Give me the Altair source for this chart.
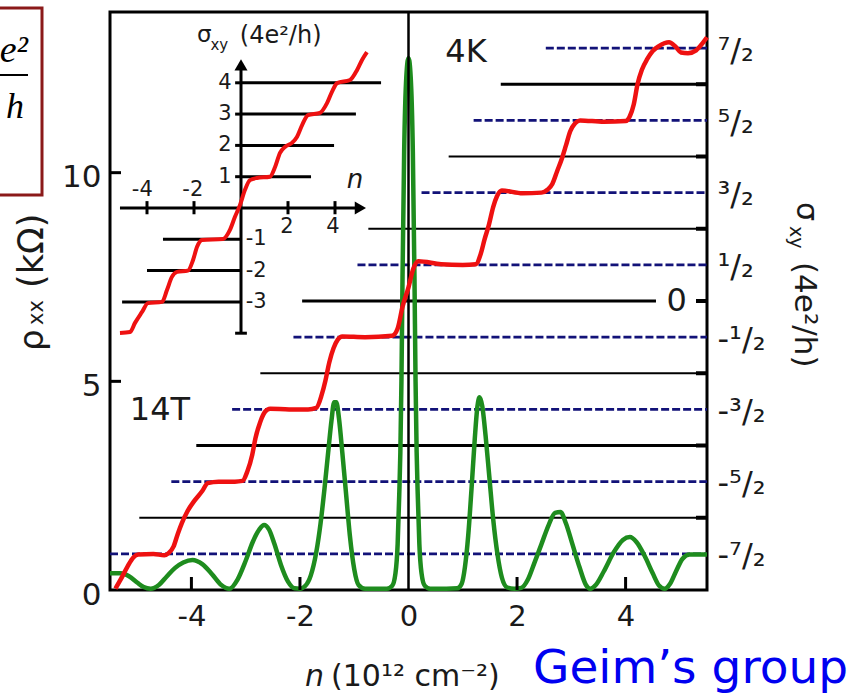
import altair as alt
import pandas as pd

# ---------------- data ----------------
# green curve: rho_xx (kOhm) versus n (10^12 cm^-2)
rho_n = [-5.5, -5.3, -5.15, -5.0, -4.88, -4.75, -4.6, -4.45, -4.3, -4.15, -3.98, -3.8, -3.62,
         -3.45, -3.3, -3.15, -3.0, -2.87, -2.75, -2.66, -2.57, -2.47, -2.35, -2.22, -2.1, -2.0,
         -1.9, -1.8, -1.7, -1.62, -1.55, -1.48, -1.42, -1.37, -1.33, -1.28, -1.22, -1.15, -1.08,
         -1.0, -0.92, -0.8, -0.6, -0.4, -0.3, -0.24, -0.2, -0.17, -0.15, -0.13, -0.11, -0.08,
         -0.04, 0.0, 0.04, 0.08, 0.11, 0.13, 0.15, 0.17, 0.2, 0.24, 0.3, 0.4, 0.7, 0.9, 0.98,
         1.04, 1.1, 1.16, 1.22, 1.27, 1.31, 1.36, 1.42, 1.49, 1.56, 1.64, 1.72, 1.82, 1.95, 2.08,
         2.2, 2.32, 2.45, 2.58, 2.7, 2.8, 2.9, 3.02, 3.15, 3.27, 3.35, 3.45, 3.6, 3.78, 3.95,
         4.08, 4.2, 4.35, 4.5, 4.62, 4.72, 4.82, 4.93, 5.05, 5.18, 5.35, 5.5]
rho_val = [0.40, 0.40, 0.33, 0.18, 0.07, 0.03, 0.12, 0.33, 0.53, 0.66, 0.72, 0.62, 0.38,
           0.12, 0.03, 0.25, 0.7, 1.15, 1.45, 1.56, 1.45, 1.1, 0.6, 0.2, 0.04, 0.03,
           0.1, 0.35, 0.9, 1.6, 2.4, 3.3, 4.05, 4.5, 4.5, 4.1, 3.3, 2.3, 1.3,
           0.5, 0.12, 0.03, 0.03, 0.03, 0.1, 0.4, 1.1, 2.3, 3.3, 5.0, 7.5, 10.5,
           12.3, 12.75, 12.3, 10.5, 7.5, 5.0, 3.3, 2.3, 1.1, 0.4, 0.1, 0.03, 0.03, 0.04, 0.15,
           0.55, 1.3, 2.4, 3.6, 4.4, 4.62, 4.4, 3.7, 2.7, 1.7, 0.85, 0.3, 0.06, 0.03, 0.05,
           0.25, 0.65, 1.1, 1.55, 1.85, 1.87, 1.6, 1.1, 0.55, 0.12, 0.03, 0.12, 0.45, 0.9, 1.2,
           1.27, 1.15, 0.82, 0.4, 0.1, 0.03, 0.15, 0.45, 0.75, 0.85, 0.85, 0.85]

# red curve: sigma_xy (4e^2/h) versus n
sig_n = [-5.4, -5.3, -5.18, -5.07, -4.98, -4.7, -4.5, -4.42, -4.33, -4.25, -4.18, -4.08, -3.95,
         -3.8, -3.7, -3.5, -3.2, -3.06, -2.97, -2.88, -2.82, -2.73, -2.64, -2.55, -2.2, -1.85,
         -1.7, -1.6, -1.53, -1.46, -1.38, -1.3, -1.22, -0.8, -0.3, -0.2, -0.11, 0.0, 0.09, 0.18,
         0.6, 1.0, 1.24, 1.33, 1.4, 1.48, 1.56, 1.63, 1.72, 2.1, 2.45, 2.56, 2.65, 2.74, 2.83,
         2.9, 2.98, 3.07, 3.16, 3.6, 4.0, 4.08, 4.15, 4.22, 4.3, 4.4, 4.5, 4.62, 4.8, 4.92, 5.02,
         5.15, 5.3, 5.42, 5.5]
sig_val = [-3.98, -3.85, -3.68, -3.55, -3.51, -3.5, -3.52, -3.49, -3.4, -3.22, -3.08, -2.92, -2.77,
           -2.63, -2.52, -2.5, -2.5, -2.49, -2.36, -2.13, -1.9, -1.67, -1.53, -1.49, -1.5, -1.5,
           -1.48, -1.3, -1.1, -0.85, -0.65, -0.53, -0.49, -0.5, -0.48, -0.38, -0.08, 0.19, 0.45, 0.55,
           0.51, 0.5, 0.51, 0.65, 0.85, 1.05, 1.3, 1.45, 1.53, 1.49, 1.5, 1.54, 1.62, 1.8, 1.98,
           2.15, 2.35, 2.46, 2.5, 2.48, 2.49, 2.56, 2.72, 3.0, 3.2, 3.35, 3.46, 3.53, 3.58, 3.52, 3.44,
           3.43, 3.47, 3.57, 3.65]

# quantised levels (right axis units)
int_levels_thick = [3, 0, -2]
int_start_thick = [1.70, -1.96, -3.91]
int_end_thick = [5.5, 4.56, 5.5]
int_levels_thin = [2, 1, -1, -3]
int_start_thin = [0.74, -0.74, -2.73, -4.96]
int_end_thin = [5.5, 5.5, 5.5, 5.5]
half_levels = [3.5, 2.5, 1.5, 0.5, -0.5, -1.5, -2.5, -3.5]
half_start = [2.53, 1.2, 0.24, -0.94, -2.12, -3.25, -4.37, -5.5]
right_tick_levels = [3, 2, 1, 0, -1, -2, -3]
x_tick_values = [-4, -2, 0, 2, 4]
x_inner_ticks = [-4, -2, 2, 4]
rho_tick_values = [0, 5, 10]
rho_inner_ticks = [5, 10]

# in-plot labels
main_label_text = ["14T", "4K", "0"]
main_label_n = [-4.58, 1.06, 4.94]
main_label_s = [-1.51, 3.45, 0.0]

# inset: sigma_xy (4e^2/h) versus n
inset_n = [-5.15, -4.72, -4.51, -4.21, -3.96, -3.36, -3.15, -2.94, -2.72, -2.26, -2.04, -1.87,
           -1.66, -0.77, -0.47, -0.26, -0.04, 0.17, 0.38, 0.68, 1.23, 1.45, 1.66, 1.87, 2.17,
           2.38, 2.6, 2.85, 3.36, 3.66, 3.87, 4.09, 4.64, 4.94, 5.15, 5.36]
inset_sig = [-3.99, -3.96, -3.67, -3.32, -3.04, -3.0, -2.62, -2.2, -2.04, -2.0, -1.66, -1.24,
             -1.02, -0.99, -0.7, -0.29, 0.1, 0.58, 0.89, 0.96, 1.0, 1.31, 1.76, 1.95, 2.08,
             2.27, 2.65, 2.97, 3.04, 3.35, 3.71, 3.99, 4.09, 4.41, 4.73, 4.98]
inset_levels = [4, 3, 2, 1, -1, -2, -3]
inset_start = [0, 0, 0, 0, -3.32, -4.0, -5.06]
inset_end = [5.96, 4.89, 3.96, 2.98, 0, 0, 0]
inset_x_ticks = [-4, -2, 2, 4]
inset_x_labels = ["-4", "-2", "2", "4"]
inset_x_label_n = [-4.2, -2.05, 1.96, 3.91]
inset_x_label_s = [0.57, 0.57, -0.61, -0.61]
inset_pos_levels = [4, 3, 2, 1]
inset_neg_levels = [-1, -2, -3]
inset_neg_labels = ["-1", "-2", "-3"]

# ---------------- styling ----------------
W, H = 597, 578
FONT = "DejaVu Sans"
INK = "#1a1a1a"
RED = "#ee1111"
GREEN = "#1e8c1e"
NAVY = "#121278"
BLUE = "#0000f0"
BOX = "#8b1a1a"

X_main = alt.Scale(domain=[-5.5, 5.5], nice=False, zero=False)
Y_sig = alt.Scale(domain=[-4, 4], nice=False, zero=False)
Y_rho = alt.Scale(domain=[0, 13.85], nice=False, zero=False)
X_in = alt.Scale(domain=[-5, 5], range=[13.5, 248.5], nice=False, zero=False)
Y_in = alt.Scale(domain=[-4, 4], range=[321.2, 70.8], nice=False, zero=False)

right_expr = ("(datum.value < 0 ? '-' : '') + (abs(datum.value) == 0.5 ? '\u00b9' : "
              "abs(datum.value) == 1.5 ? '\u00b3' : abs(datum.value) == 2.5 ? '\u2075' : '\u2077')"
              " + '/\u2082'")
right_axis = alt.Axis(orient="right", values=half_levels, labelExpr=right_expr, ticks=False,
                      domain=False, grid=False, labelFont=FONT, labelFontSize=32,
                      labelColor=INK, labelPadding=10, labelAlign="left",
                      labelBaseline="middle", labelOffset=2, title=None, labelFlush=False,
                      labelOverlap=False)
x_axis = alt.Axis(orient="bottom", values=x_tick_values, labelExpr="'' + datum.value",
                  ticks=False, domain=False, grid=False, labelFont=FONT, labelFontSize=29,
                  labelColor=INK, labelPadding=12, title=None, labelFlush=False,
                  labelOverlap=False)
left_axis = alt.Axis(orient="left", values=rho_tick_values, labelExpr="'' + datum.value",
                     ticks=False, domain=False, grid=False, labelFont=FONT, labelFontSize=31,
                     labelColor=INK, labelPadding=9, labelOffset=5, title=None,
                     labelFlush=False, labelOverlap=False)

layers = []

# ---------------- sigma level lines (right axis) ----------------
df_thick = pd.DataFrame({"lvl": int_levels_thick, "x0": int_start_thick, "x1": int_end_thick})
df_thin = pd.DataFrame({"lvl": int_levels_thin, "x0": int_start_thin, "x1": int_end_thin})
df_half = pd.DataFrame({"lvl": half_levels, "x0": half_start})
df_rt = pd.DataFrame({"lvl": right_tick_levels})

layers.append(alt.Chart(df_thick).mark_rule(color="black", strokeWidth=3).encode(
    x=alt.X("x0:Q", scale=X_main, axis=None), x2="x1:Q",
    y=alt.Y("lvl:Q", scale=Y_sig, axis=right_axis)))
layers.append(alt.Chart(df_thin).mark_rule(color="black", strokeWidth=2).encode(
    x=alt.X("x0:Q", scale=X_main, axis=None), x2="x1:Q",
    y=alt.Y("lvl:Q", scale=Y_sig, axis=None)))
layers.append(alt.Chart(df_half).mark_rule(color=NAVY, strokeWidth=2.6, strokeDash=[8, 3]).encode(
    x=alt.X("x0:Q", scale=X_main, axis=None), x2=alt.datum(5.5),
    y=alt.Y("lvl:Q", scale=Y_sig, axis=None)))
layers.append(alt.Chart(df_rt).mark_rule(color="black", strokeWidth=4).encode(
    x=alt.value(W - 11), x2=alt.value(W),
    y=alt.Y("lvl:Q", scale=Y_sig, axis=None)))

# ---------------- rho_xx (left axis, bottom axis) ----------------
df_rho = pd.DataFrame({"n": rho_n, "rho": rho_val})
layers.append(alt.Chart(df_rho).mark_line(color=GREEN, strokeWidth=4.5, interpolate="monotone").encode(
    x=alt.X("n:Q", scale=X_main, axis=x_axis),
    y=alt.Y("rho:Q", scale=Y_rho, axis=left_axis)))
layers.append(alt.Chart(pd.DataFrame({"n": [0]})).mark_rule(color="black", strokeWidth=2.5).encode(
    x=alt.X("n:Q", scale=X_main, axis=None)))
layers.append(alt.Chart(pd.DataFrame({"n": x_inner_ticks})).mark_rule(color="black", strokeWidth=3).encode(
    x=alt.X("n:Q", scale=X_main, axis=None), y=alt.value(H), y2=alt.value(H - 13)))
layers.append(alt.Chart(pd.DataFrame({"v": rho_inner_ticks})).mark_rule(color="black", strokeWidth=3).encode(
    y=alt.Y("v:Q", scale=Y_rho, axis=None), x=alt.value(0), x2=alt.value(11)))

# ---------------- red sigma curve + labels ----------------
df_sig = pd.DataFrame({"n": sig_n, "s": sig_val})
layers.append(alt.Chart(df_sig).mark_line(color=RED, strokeWidth=4.5, interpolate="monotone").encode(
    x=alt.X("n:Q", scale=X_main, axis=None),
    y=alt.Y("s:Q", scale=Y_sig, axis=None)))
df_lab = pd.DataFrame({"n": main_label_n, "s": main_label_s, "t": main_label_text})
layers.append(alt.Chart(df_lab).mark_text(font=FONT, fontSize=32, color=INK, align="center",
                                          baseline="middle").encode(
    x=alt.X("n:Q", scale=X_main, axis=None),
    y=alt.Y("s:Q", scale=Y_sig, axis=None), text="t:N"))

# ---------------- inset ----------------
one = pd.DataFrame({"a": [0]})
df_in = pd.DataFrame({"n": inset_n, "s": inset_sig})
df_inl = pd.DataFrame({"lvl": inset_levels, "x0": inset_start, "x1": inset_end})
layers.append(alt.Chart(df_inl).mark_rule(color="black", strokeWidth=3).encode(
    x=alt.X("x0:Q", scale=X_in, axis=None), x2="x1:Q",
    y=alt.Y("lvl:Q", scale=Y_in, axis=None)))
layers.append(alt.Chart(one).mark_rule(color="black", strokeWidth=3).encode(
    x=alt.X(datum=-5.15, scale=X_in, axis=None), x2=alt.datum(5.1),
    y=alt.Y(datum=0, scale=Y_in, axis=None)))
layers.append(alt.Chart(one).mark_rule(color="black", strokeWidth=3).encode(
    x=alt.X(datum=0, scale=X_in, axis=None),
    y=alt.Y(datum=-4, scale=Y_in, axis=None), y2=alt.datum(4.5)))
layers.append(alt.Chart(one).mark_point(
    shape="triangle-right", filled=True, size=170, color="black", opacity=1).encode(
    x=alt.X(datum=5.08, scale=X_in, axis=None), y=alt.Y(datum=0, scale=Y_in, axis=None)))
layers.append(alt.Chart(one).mark_point(
    shape="triangle-up", filled=True, size=170, color="black", opacity=1).encode(
    x=alt.X(datum=0, scale=X_in, axis=None), y=alt.Y(datum=4.57, scale=Y_in, axis=None)))
layers.append(alt.Chart(pd.DataFrame({"v": inset_x_ticks})).mark_rule(color="black", strokeWidth=3).encode(
    x=alt.X("v:Q", scale=X_in, axis=None),
    y=alt.Y(datum=-0.2, scale=Y_in, axis=None), y2=alt.datum(0.22)))
layers.append(alt.Chart(pd.DataFrame({"v": inset_pos_levels})).mark_rule(color="black", strokeWidth=3).encode(
    x=alt.X(datum=-0.25, scale=X_in, axis=None), x2=alt.datum(0),
    y=alt.Y("v:Q", scale=Y_in, axis=None)))
layers.append(alt.Chart(pd.DataFrame({"v": [-4]})).mark_rule(color="black", strokeWidth=3).encode(
    x=alt.X(datum=-0.25, scale=X_in, axis=None), x2=alt.datum(0.25),
    y=alt.Y("v:Q", scale=Y_in, axis=None)))
layers.append(alt.Chart(pd.DataFrame({"v": inset_pos_levels})).mark_text(
    font=FONT, fontSize=21, color=INK, align="right", baseline="middle").encode(
    x=alt.X(datum=-0.4, scale=X_in, axis=None),
    y=alt.Y("v:Q", scale=Y_in, axis=None), text=alt.Text("v:Q")))
layers.append(alt.Chart(pd.DataFrame({"v": inset_neg_levels, "t": inset_neg_labels})).mark_text(
    font=FONT, fontSize=21, color=INK, align="left", baseline="middle").encode(
    x=alt.X(datum=0.2, scale=X_in, axis=None),
    y=alt.Y("v:Q", scale=Y_in, axis=None), text="t:N"))
layers.append(alt.Chart(pd.DataFrame({"n": inset_x_label_n, "s": inset_x_label_s,
                                      "t": inset_x_labels})).mark_text(
    font=FONT, fontSize=21, color=INK, align="center", baseline="middle").encode(
    x=alt.X("n:Q", scale=X_in, axis=None),
    y=alt.Y("s:Q", scale=Y_in, axis=None), text="t:N"))
layers.append(alt.Chart(one).mark_text(
    text="n", font=FONT, fontSize=26, fontStyle="italic", color=INK, align="center",
    baseline="middle").encode(
    x=alt.X(datum=4.85, scale=X_in, axis=None), y=alt.Y(datum=0.9, scale=Y_in, axis=None)))
layers.append(alt.Chart(one).mark_text(
    text="\u03c3", font=FONT, fontSize=23, color=INK, align="left", baseline="alphabetic").encode(
    x=alt.X(datum=-1.87, scale=X_in, axis=None), y=alt.Y(datum=5.3, scale=Y_in, axis=None)))
layers.append(alt.Chart(one).mark_text(
    text="xy", font=FONT, fontSize=15, color=INK, align="left", baseline="alphabetic").encode(
    x=alt.X(datum=-1.3, scale=X_in, axis=None), y=alt.Y(datum=5.05, scale=Y_in, axis=None)))
layers.append(alt.Chart(one).mark_text(
    text="(4e\u00b2/h)", font=FONT, fontSize=24, color=INK, align="left",
    baseline="alphabetic").encode(
    x=alt.X(datum=-0.05, scale=X_in, axis=None), y=alt.Y(datum=5.27, scale=Y_in, axis=None)))
layers.append(alt.Chart(df_in).mark_line(color=RED, strokeWidth=4, interpolate="monotone").encode(
    x=alt.X("n:Q", scale=X_in, axis=None), y=alt.Y("s:Q", scale=Y_in, axis=None)))


# ---------------- decorations outside the plot ----------------
def ptext(txt, x, y, **kw):
    return alt.Chart(one).mark_text(text=txt, **kw).encode(x=alt.value(x), y=alt.value(y))


layers.append(alt.Chart(one).mark_rect(filled=False, stroke=BOX, strokeWidth=3).encode(
    x=alt.value(-130), x2=alt.value(-68), y=alt.value(-4), y2=alt.value(183)))
layers.append(alt.Chart(one).mark_rule(color="black", strokeWidth=2).encode(
    x=alt.value(-110), x2=alt.value(-82), y=alt.value(63)))
layers += [
    ptext("e\u00b2", -82, 50, font="Liberation Serif", fontStyle="italic", fontSize=38,
          color="black", align="right", baseline="alphabetic"),
    ptext("h", -95, 106, font="Liberation Serif", fontStyle="italic", fontSize=36,
          color="black", align="center", baseline="alphabetic"),
    # left axis title
    ptext("\u03c1", -67, 339, font=FONT, fontSize=34, color=INK, angle=270, align="left",
          baseline="alphabetic"),
    ptext("xx", -67, 313, font=FONT, fontSize=21, color=INK, angle=270, align="left",
          baseline="alphabetic"),
    ptext("(k\u03a9)", -67, 276, font=FONT, fontSize=35, color=INK, angle=270, align="left",
          baseline="alphabetic"),
    # right axis title
    ptext("\u03c3", 687, 190, font=FONT, fontSize=30, color=INK, angle=90, align="left",
          baseline="alphabetic"),
    ptext("xy", 680, 214, font=FONT, fontSize=19, color=INK, angle=90, align="left",
          baseline="alphabetic"),
    ptext("(4e\u00b2/h)", 685, 250, font=FONT, fontSize=31, color=INK, angle=90, align="left",
          baseline="alphabetic"),
    # bottom axis title
    ptext("n", 195, 674, font=FONT, fontSize=30, fontStyle="italic", color=INK, align="left",
          baseline="alphabetic"),
    ptext("(10\u00b9\u00b2 cm\u207b\u00b2)", 221, 674, font=FONT, fontSize=30, color=INK,
          align="left", baseline="alphabetic"),
    ptext("Geim\u2019s group", 423, 671, font=FONT, fontSize=47, color=BLUE, align="left",
          baseline="alphabetic"),
]

chart = alt.layer(*layers).resolve_scale(
    x="independent", y="independent"
).properties(
    width=W, height=H,
    autosize=alt.AutoSizeParams(type="none"),
    padding={"left": 110, "top": 12, "right": 141, "bottom": 106},
).configure_view(stroke="black", strokeWidth=3)

chart.save("out.html", embed_options={"renderer": "svg", "actions": False})
